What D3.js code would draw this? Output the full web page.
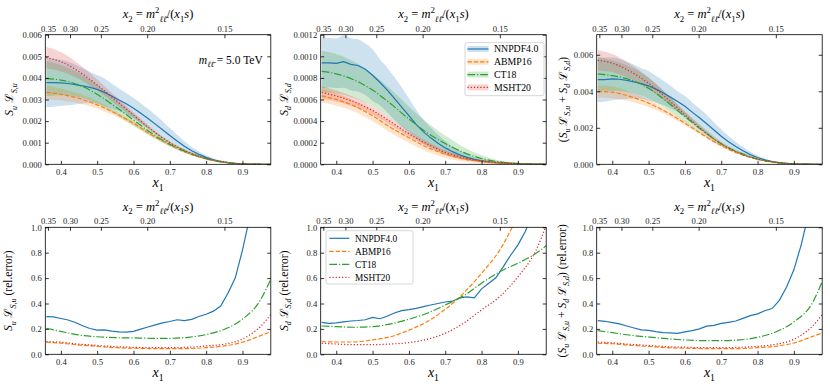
<!DOCTYPE html>
<html><head><meta charset="utf-8">
<script src="https://cdn.jsdelivr.net/npm/d3@7"></script>
<style>body{margin:0;background:#fff}svg{display:block}</style>
</head><body><svg id="c" width="830" height="388"></svg>
<script>
// ---------------- DATA ----------------
const tau = 0.12755;                 // m^2/s, x2 = tau/x1
const x1Ticks = [0.4,0.5,0.6,0.7,0.8,0.9];
const x2Ticks = [0.35,0.30,0.25,0.20,0.15];
const pdfNames = ["NNPDF4.0","ABMP16","CT18","MSHT20"];
// fine grid for NNPDF4.0 (wiggly replica curves)
const xsN = [0.36,0.38,0.40,0.42,0.44,0.46,0.48,0.50,0.52,0.54,0.56,0.58,0.60,0.62,0.64,0.66,0.68,0.70,0.72,0.74,0.76,0.78,0.80,0.82,0.84,0.86,0.88,0.90,0.92,0.94,0.96,0.98];
// smooth grid for other PDF sets
const xs = [0.36,0.40,0.45,0.50,0.55,0.60,0.65,0.70,0.75,0.80,0.85,0.90,0.95,0.98];
// central values, units of 1e-3
const nnpdfU = [3.78,3.78,3.77,3.74,3.69,3.63,3.56,3.47,3.33,3.16,2.98,2.80,2.60,2.36,2.12,1.86,1.60,1.33,1.08,0.84,0.63,0.46,0.32,0.21,0.13,0.08,0.046,0.025,0.012,0.005,0.002,0.0005];
const nnpdfD = [0.94,0.94,0.935,0.95,0.925,0.915,0.88,0.825,0.76,0.69,0.61,0.53,0.45,0.37,0.30,0.245,0.195,0.152,0.117,0.087,0.064,0.045,0.032,0.023,0.016,0.011,0.008,0.005,0.003,0.0018,0.0009,0.0004];
const nnpdfS = [4.64,4.64,4.68,4.66,4.60,4.52,4.42,4.30,4.12,3.92,3.68,3.44,3.18,2.86,2.55,2.22,1.88,1.54,1.24,0.97,0.74,0.53,0.37,0.24,0.15,0.09,0.055,0.03,0.015,0.007,0.003,0.001];
const abmpU = [3.33,3.24,3.05,2.75,2.36,1.90,1.36,0.90,0.51,0.25,0.09,0.02,0.003,0.0005];
const ct18U = [3.97,3.90,3.67,3.24,2.67,2.05,1.44,0.93,0.54,0.26,0.09,0.02,0.003,0.0005];
const mshtU = [4.94,4.75,4.29,3.67,2.98,2.28,1.59,1.00,0.57,0.28,0.11,0.025,0.004,0.0006];
const abmpD = [0.633,0.600,0.539,0.450,0.340,0.246,0.157,0.094,0.050,0.025,0.013,0.005,0.001,0.0003];
const ct18D = [0.860,0.838,0.780,0.687,0.560,0.419,0.293,0.192,0.110,0.054,0.022,0.008,0.002,0.0006];
const mshtD = [0.665,0.633,0.576,0.498,0.394,0.283,0.189,0.110,0.060,0.031,0.016,0.006,0.0015,0.0004];
const abmpS = [3.99,3.95,3.71,3.35,2.85,2.25,1.61,1.02,0.57,0.27,0.09,0.02,0.003,0.0005];
const ct18S = [4.95,4.86,4.63,4.17,3.44,2.61,1.83,1.12,0.64,0.29,0.11,0.028,0.004,0.0006];
const mshtS = [5.69,5.54,5.08,4.44,3.62,2.71,1.85,1.12,0.60,0.29,0.11,0.03,0.005,0.0007];
// relative errors
const nnpdfUerr = [0.297,0.294,0.282,0.270,0.250,0.225,0.203,0.190,0.192,0.182,0.177,0.175,0.180,0.198,0.215,0.232,0.248,0.258,0.272,0.265,0.275,0.298,0.315,0.340,0.380,0.480,0.600,0.820,1.08,1.3,1.5,1.7];
const nnpdfDerr = [0.252,0.244,0.247,0.255,0.262,0.266,0.272,0.290,0.280,0.300,0.325,0.344,0.352,0.362,0.375,0.388,0.400,0.412,0.418,0.445,0.452,0.445,0.515,0.560,0.605,0.690,0.780,0.860,0.965,1.1,1.25,1.4];
const nnpdfSerr = [0.265,0.260,0.250,0.239,0.223,0.207,0.192,0.189,0.178,0.171,0.168,0.165,0.176,0.186,0.200,0.222,0.228,0.243,0.252,0.262,0.283,0.305,0.318,0.343,0.360,0.425,0.530,0.665,0.860,1.1,1.3,1.5];
const abmpUerr = [0.095,0.088,0.073,0.063,0.052,0.048,0.045,0.044,0.045,0.052,0.066,0.095,0.147,0.18];
const ct18Uerr = [0.205,0.18,0.152,0.138,0.131,0.129,0.126,0.126,0.134,0.155,0.197,0.276,0.43,0.605];
const mshtUerr = [0.10,0.095,0.08,0.07,0.06,0.055,0.052,0.052,0.055,0.066,0.08,0.12,0.22,0.32];
const abmpDerr = [0.10,0.097,0.097,0.113,0.139,0.19,0.257,0.354,0.48,0.638,0.82,1.08,1.3,1.45];
const ct18Derr = [0.223,0.218,0.213,0.218,0.239,0.276,0.323,0.388,0.46,0.56,0.65,0.717,0.795,0.86];
const mshtDerr = [0.087,0.081,0.076,0.076,0.081,0.092,0.118,0.165,0.244,0.35,0.454,0.61,0.82,1.03];
const abmpSerr = [0.087,0.083,0.071,0.062,0.052,0.048,0.045,0.044,0.045,0.052,0.063,0.089,0.139,0.17];
const ct18Serr = [0.186,0.17,0.15,0.136,0.123,0.113,0.108,0.108,0.113,0.134,0.176,0.255,0.40,0.585];
const mshtSerr = [0.097,0.09,0.079,0.07,0.06,0.056,0.052,0.052,0.055,0.063,0.079,0.118,0.218,0.32];
const UNIT = 1e-3;

// ---------------- STYLE ----------------
const colors = ["#1f77b4","#ff7f0e","#2ca02c","#d62728"];
const dashes = [null,"4.4,1.9","7.7,1.9,1.2,1.9","1.2,2"];
const bandOp = [0.22,0.22,0.22,0.2];
const FONT = "'Liberation Serif','DejaVu Serif',serif";
const svg = d3.select("#c").style("font-family", FONT);

const lefts = [45.3, 320.7, 596.7], PW = 225.5;
const rows = [{top:34.7, bot:164.3}, {top:227.3, bot:354.3}];
const xDom = [Math.sqrt(tau), 0.978];

function rich(g, parts, size, attrs) {
  const t = g.append("text").attr("font-size", size);
  for (const k in attrs) t.attr(k, attrs[k]);
  let shift = 0;
  parts.forEach(p => {
    const tgt = p.sub ? size*0.28 : p.sup ? -size*0.38 : 0;
    const ts = t.append("tspan").text(p.t).attr("dy", (tgt - shift).toFixed(2))
      .attr("font-size", (p.sub||p.sup) ? size*0.7 : size)
      .attr("font-style", p.it ? "italic" : "normal");
    if (p.dx) ts.attr("dx", p.dx);
    shift = tgt;
  });
  return t;
}
const Lsc = "\u2112";
function lumParts(q){ return [{t:"S",it:1},{t:q,it:1,sub:1},{t:" "},{t:Lsc},{t:"S,"+q,it:1,sub:1}]; }

const sets = {
  u: {c:[nnpdfU,abmpU,ct18U,mshtU], e:[nnpdfUerr,abmpUerr,ct18Uerr,mshtUerr]},
  d: {c:[nnpdfD,abmpD,ct18D,mshtD], e:[nnpdfDerr,abmpDerr,ct18Derr,mshtDerr]},
  s: {c:[nnpdfS,abmpS,ct18S,mshtS], e:[nnpdfSerr,abmpSerr,ct18Serr,mshtSerr]}
};
const panels = [
  {row:0,col:0,key:"u",rel:false,yDom:[0,0.006],yTicks:d3.range(0,0.0061,0.001),fmt:".3f",lab:lumParts("u"),labX:-32},
  {row:0,col:1,key:"d",rel:false,yDom:[0,0.0012],yTicks:d3.range(0,0.00121,0.0002),fmt:".4f",lab:lumParts("d"),labX:-32.5},
  {row:0,col:2,key:"s",rel:false,yDom:[0,0.0071],yTicks:[0,0.002,0.004,0.006],fmt:".3f",
     lab:[{t:"("}].concat(lumParts("u"),[{t:" + "}],lumParts("d"),[{t:")"}]),labX:-29.5},
  {row:1,col:0,key:"u",rel:true,yDom:[0,1],yTicks:[0,0.2,0.4,0.6,0.8,1.0],fmt:".1f",lab:lumParts("u").concat([{t:" (rel.error)"}]),labX:-33},
  {row:1,col:1,key:"d",rel:true,yDom:[0,1],yTicks:[0,0.2,0.4,0.6,0.8,1.0],fmt:".1f",lab:lumParts("d").concat([{t:" (rel.error)"}]),labX:-33},
  {row:1,col:2,key:"s",rel:true,yDom:[0,1],yTicks:[0,0.2,0.4,0.6,0.8,1.0],fmt:".1f",
     lab:[{t:"("}].concat(lumParts("u"),[{t:" + "}],lumParts("d"),[{t:")"}],[{t:" (rel.error)"}]),labX:-31}
];

panels.forEach((P, pi) => {
  const L = lefts[P.col], T = rows[P.row].top, B = rows[P.row].bot;
  const x = d3.scaleLinear().domain(xDom).range([L, L+PW]);
  const y = d3.scaleLinear().domain(P.yDom).range([B, T]);
  const g = svg.append("g");
  const cid = "clip"+pi;
  svg.append("clipPath").attr("id", cid).append("rect").attr("x", L).attr("y", T).attr("width", PW).attr("height", B-T);
  const plot = g.append("g").attr("clip-path", `url(#${cid})`);
  const S = sets[P.key];
  const grids = [xsN, xs, xs, xs];
  if (!P.rel) {
    [0,1,2,3].forEach(i => {
      const pts = grids[i].map((xv, j) => ({x:xv, c:S.c[i][j]*UNIT, e:S.e[i][j]}));
      plot.append("path").datum(pts)
        .attr("d", d3.area().x(d=>x(d.x)).y0(d=>y(Math.max(0,d.c*(1-d.e)))).y1(d=>y(d.c*(1+d.e))).curve(d3.curveMonotoneX))
        .attr("fill", colors[i]).attr("fill-opacity", bandOp[i]).attr("stroke", "none");
    });
  }
  [0,1,2,3].forEach(i => {
    const vals = P.rel ? S.e[i] : S.c[i].map(v => v*UNIT);
    const pts = grids[i].map((xv, j) => [xv, vals[j]]);
    plot.append("path").datum(pts)
      .attr("d", d3.line().x(d=>x(d[0])).y(d=>y(d[1])).curve(i===0 ? d3.curveLinear : d3.curveMonotoneX))
      .attr("fill","none").attr("stroke", colors[i]).attr("stroke-width", 1.2)
      .attr("stroke-dasharray", dashes[i]);
  });
  g.append("rect").attr("x", L).attr("y", T).attr("width", PW).attr("height", B-T)
    .attr("fill","none").attr("stroke","#000").attr("stroke-width",0.8);
  const xb = d3.axisBottom(x).tickValues(x1Ticks).tickSizeInner(-3.5).tickSizeOuter(0).tickPadding(5).tickFormat(d3.format(".1f"));
  const gxb = g.append("g").attr("transform", `translate(0,${B})`).call(xb);
  const xt = d3.axisTop(x).tickValues(x2Ticks.map(v => tau/v)).tickSizeInner(-3.5).tickSizeOuter(0).tickPadding(3)
    .tickFormat((d,i) => d3.format(".2f")(x2Ticks[i]));
  const gxt = g.append("g").attr("transform", `translate(0,${T})`).call(xt);
  const yl = d3.axisLeft(y).tickValues(P.yTicks).tickSizeInner(-3.5).tickSizeOuter(0).tickPadding(3.5).tickFormat(d3.format(P.fmt));
  const gyl = g.append("g").attr("transform", `translate(${L},0)`).call(yl);
  const yr = d3.axisRight(y).tickValues(P.yTicks).tickSizeInner(-3.5).tickSizeOuter(0).tickFormat("");
  const gyr = g.append("g").attr("transform", `translate(${L+PW},0)`).call(yr);
  [gxb,gxt,gyl,gyr].forEach(a => {
    a.select(".domain").remove();
    a.selectAll("line").attr("stroke","#000").attr("stroke-width",0.8);
    a.selectAll("text").attr("font-family", FONT).attr("font-size", 8.6).attr("fill","#222");
  });
  const cx = L + PW/2;
  rich(g, [{t:"x",it:1},{t:"2",sub:1},{t:" = "},{t:"m",it:1},{t:"2",sup:1},{t:"\u2113\u2113\u0304",it:1,sub:1},{t:"/("},{t:"x",it:1},{t:"1",sub:1},{t:"s",it:1},{t:")"}],
       12.5, {x:cx, y:T-16.5, "text-anchor":"middle"});
  rich(g, [{t:"x",it:1},{t:"1",sub:1}], 14, {x:cx, y:B+23, "text-anchor":"middle"});
  const ly = (T+B)/2;
  rich(g, P.lab, 11.5, {transform:`translate(${L+P.labX},${ly}) rotate(-90)`, "text-anchor":"middle"});
  if (pi === 0) {
    rich(g, [{t:"m",it:1},{t:"\u2113\u2113\u0304",it:1,sub:1},{t:" = 5.0 TeV"}], 11.5, {x:L+PW-8, y:T+29, "text-anchor":"end"});
  }
  if (pi === 1) {
    const lg = g.append("g");
    lg.append("rect").attr("x",465).attr("y",42.7).attr("width",79).attr("height",53).attr("rx",2)
      .attr("fill","#fff").attr("fill-opacity",0.8).attr("stroke","#ccc").attr("stroke-width",0.8);
    pdfNames.forEach((n,i) => {
      const ry = 49 + i*12.8;
      lg.append("rect").attr("x",467.5).attr("y",ry-3).attr("width",21).attr("height",6)
        .attr("fill",colors[i]).attr("fill-opacity",bandOp[i]);
      lg.append("line").attr("x1",467.5).attr("x2",488.5).attr("y1",ry).attr("y2",ry)
        .attr("stroke",colors[i]).attr("stroke-width",1.2).attr("stroke-dasharray",dashes[i]);
      lg.append("text").attr("x",494).attr("y",ry+3.3).attr("font-size",9.8).text(n);
    });
  }
  if (pi === 4) {
    const lg = g.append("g");
    lg.append("rect").attr("x",326).attr("y",230.7).attr("width",87).attr("height",53.3).attr("rx",2)
      .attr("fill","#fff").attr("fill-opacity",0.8).attr("stroke","#ccc").attr("stroke-width",0.8);
    pdfNames.forEach((n,i) => {
      const ry = 238.3 + i*13;
      lg.append("line").attr("x1",329.3).attr("x2",349.3).attr("y1",ry).attr("y2",ry)
        .attr("stroke",colors[i]).attr("stroke-width",1.2).attr("stroke-dasharray",dashes[i]);
      lg.append("text").attr("x",355).attr("y",ry+3.3).attr("font-size",9.3).text(n);
    });
  }
});
</script></body></html>
